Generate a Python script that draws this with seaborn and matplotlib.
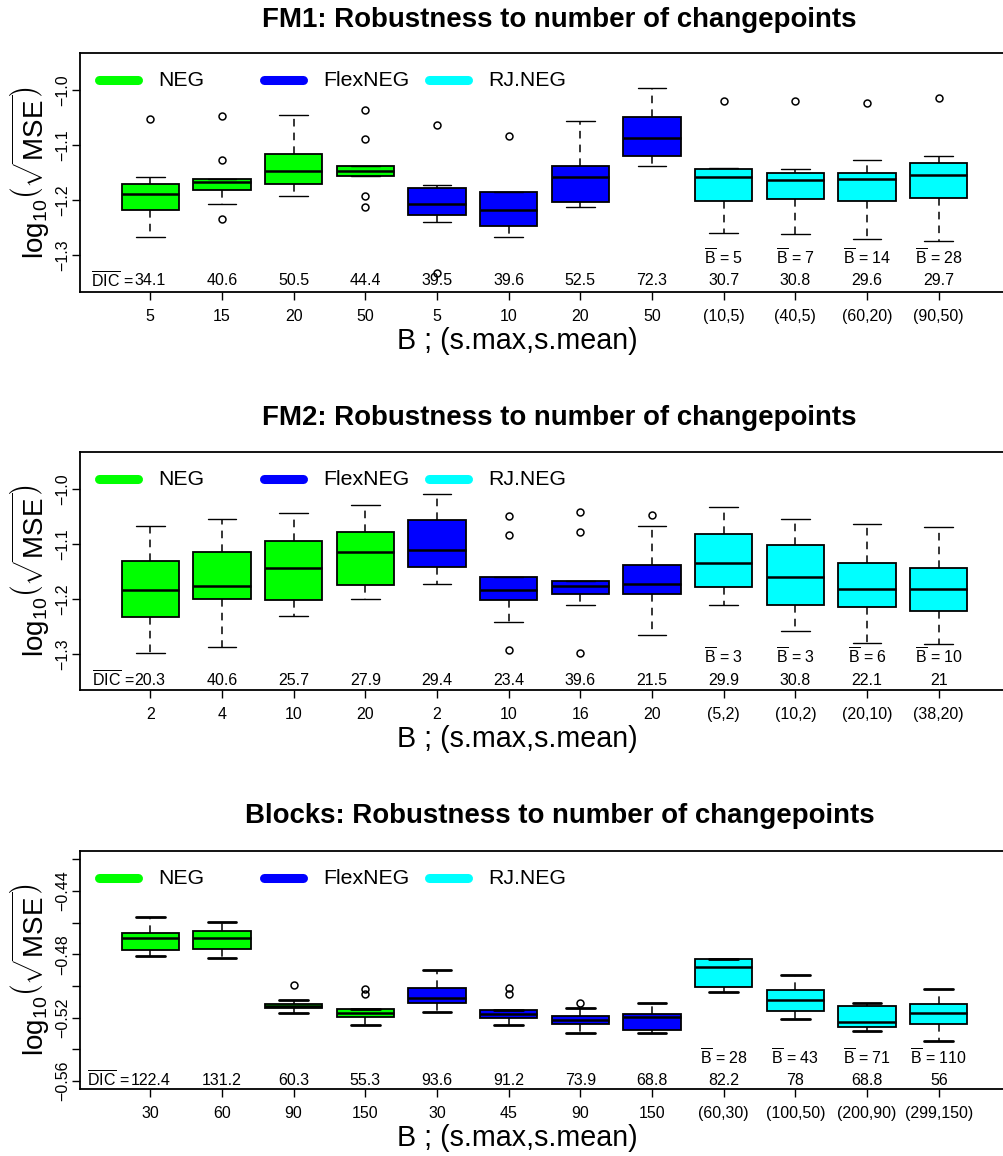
import matplotlib
matplotlib.use("Agg")
import matplotlib.pyplot as plt
import seaborn as sns
from matplotlib.lines import Line2D

# ---------------- data ----------------
methods = ["NEG", "FlexNEG", "RJ.NEG"]
method_colors = ["#00FF00", "#0000FF", "#00FFFF"]
box_method = [0, 0, 0, 0, 1, 1, 1, 1, 2, 2, 2, 2]

titles = ["FM1: Robustness to number of changepoints",
          "FM2: Robustness to number of changepoints",
          "Blocks: Robustness to number of changepoints"]

fm1_labels = ["5", "15", "20", "50", "5", "10", "20", "50", "(10,5)", "(40,5)", "(60,20)", "(90,50)"]
fm1_whislo = [-1.268, -1.207, -1.193, -1.156, -1.239, -1.268, -1.212, -1.138, -1.259, -1.261, -1.270, -1.275]
fm1_q1 = [-1.218, -1.182, -1.170, -1.156, -1.228, -1.248, -1.204, -1.120, -1.202, -1.198, -1.201, -1.197]
fm1_med = [-1.189, -1.167, -1.147, -1.148, -1.208, -1.219, -1.159, -1.088, -1.159, -1.164, -1.162, -1.154]
fm1_q3 = [-1.170, -1.161, -1.117, -1.139, -1.179, -1.185, -1.138, -1.050, -1.144, -1.150, -1.151, -1.132]
fm1_whishi = [-1.158, -1.161, -1.046, -1.139, -1.173, -1.185, -1.056, -0.997, -1.142, -1.144, -1.127, -1.120]
fm1_fliers = [[-1.053], [-1.048, -1.127, -1.235], [], [-1.037, -1.089, -1.192, -1.212],
              [-1.064, -1.332], [-1.084], [], [], [-1.021], [-1.021], [-1.023], [-1.015]]
fm1_dic = ["34.1", "40.6", "50.5", "44.4", "39.5", "39.6", "52.5", "72.3", "30.7", "30.8", "29.6", "29.7"]
fm1_bbar = ["5", "7", "14", "28"]

fm2_labels = ["2", "4", "10", "20", "2", "10", "16", "20", "(5,2)", "(10,2)", "(20,10)", "(38,20)"]
fm2_whislo = [-1.297, -1.287, -1.231, -1.200, -1.172, -1.242, -1.211, -1.266, -1.210, -1.258, -1.279, -1.281]
fm2_q1 = [-1.233, -1.200, -1.202, -1.174, -1.141, -1.202, -1.191, -1.191, -1.178, -1.210, -1.214, -1.222]
fm2_med = [-1.183, -1.176, -1.143, -1.115, -1.111, -1.184, -1.176, -1.173, -1.134, -1.159, -1.182, -1.182]
fm2_q3 = [-1.130, -1.114, -1.095, -1.078, -1.056, -1.159, -1.168, -1.139, -1.082, -1.101, -1.134, -1.144]
fm2_whishi = [-1.067, -1.054, -1.043, -1.030, -1.010, -1.159, -1.168, -1.067, -1.032, -1.054, -1.064, -1.070]
fm2_fliers = [[], [], [], [], [], [-1.050, -1.084, -1.293], [-1.041, -1.079, -1.298], [-1.047],
              [], [], [], []]
fm2_dic = ["20.3", "40.6", "25.7", "27.9", "29.4", "23.4", "39.6", "21.5", "29.9", "30.8", "22.1", "21"]
fm2_bbar = ["3", "3", "6", "10"]

blk_labels = ["30", "60", "90", "150", "30", "45", "90", "150", "(60,30)", "(100,50)", "(200,90)", "(299,150)"]
blk_whislo = [-0.4813, -0.4821, -0.5173, -0.5247, -0.5162, -0.5249, -0.5299, -0.5299, -0.5038, -0.5211, -0.5283, -0.5349]
blk_q1 = [-0.4771, -0.4764, -0.5139, -0.5198, -0.5108, -0.5200, -0.5242, -0.5282, -0.5005, -0.5158, -0.5259, -0.5242]
blk_med = [-0.4697, -0.4695, -0.5124, -0.5171, -0.5074, -0.5175, -0.5215, -0.5198, -0.4882, -0.5089, -0.5228, -0.5173]
blk_q3 = [-0.4665, -0.4651, -0.5112, -0.5148, -0.5015, -0.5154, -0.5190, -0.5177, -0.4830, -0.5025, -0.5124, -0.5112]
blk_whishi = [-0.4564, -0.4596, -0.5091, -0.5148, -0.4901, -0.5152, -0.5137, -0.5110, -0.4830, -0.4931, -0.5110, -0.5021]
blk_fliers = [[], [], [-0.4994], [-0.5017, -0.5049], [], [-0.5011, -0.5053], [-0.5110], [],
              [], [], [], []]
blk_dic = ["122.4", "131.2", "60.3", "55.3", "93.6", "91.2", "73.9", "68.8", "82.2", "78", "68.8", "56"]
blk_bbar = ["28", "43", "71", "110"]

# ---------------- style ----------------
sns.set_theme(style="white", rc={
    "axes.edgecolor": "black", "axes.linewidth": 1.0,
    "text.color": "black", "xtick.color": "black", "ytick.color": "black",
    "axes.labelcolor": "black",
})
plt.rcParams["font.family"] = ["Liberation Sans", "DejaVu Sans"]
plt.rcParams["mathtext.fontset"] = "custom"
plt.rcParams["mathtext.rm"] = "Liberation Sans"
plt.rcParams["mathtext.it"] = "Liberation Sans:italic"
plt.rcParams["mathtext.bf"] = "Liberation Sans:bold"

W, H = 1004, 1156
fig = plt.figure(figsize=(W / 100, H / 100), dpi=100)

panels = [
    dict(labels=fm1_labels, lo=fm1_whislo, q1=fm1_q1, med=fm1_med, q3=fm1_q3, hi=fm1_whishi,
         fl=fm1_fliers, dic=fm1_dic, bbar=fm1_bbar, ylim=(-1.367, -0.933),
         yticks=[-1.3, -1.2, -1.1, -1.0], ylabs=["−1.3", "−1.2", "−1.1", "−1.0"],
         bbar_y=-1.305, dic_y=-1.346, top=53, bot=292),
    dict(labels=fm2_labels, lo=fm2_whislo, q1=fm2_q1, med=fm2_med, q3=fm2_q3, hi=fm2_whishi,
         fl=fm2_fliers, dic=fm2_dic, bbar=fm2_bbar, ylim=(-1.365, -0.933),
         yticks=[-1.3, -1.2, -1.1, -1.0], ylabs=["−1.3", "−1.2", "−1.1", "−1.0"],
         bbar_y=-1.305, dic_y=-1.347, top=452, bot=690),
    dict(labels=blk_labels, lo=blk_whislo, q1=blk_q1, med=blk_med, q3=blk_q3, hi=blk_whishi,
         fl=blk_fliers, dic=blk_dic, bbar=blk_bbar, ylim=(-0.5652, -0.4147),
         yticks=[-0.56, -0.54, -0.52, -0.50, -0.48, -0.46, -0.44, -0.42],
         ylabs=["−0.56", "", "−0.52", "", "−0.48", "", "−0.44", ""],
         bbar_y=-0.5457, dic_y=-0.5597, top=851, bot=1089),
]

left_px, right_px = 80, 1009
positions = list(range(1, 13))
title_y = [20, 418, 816]

for k, p in enumerate(panels):
    ax = fig.add_axes([left_px / W, 1 - p["bot"] / H, (right_px - left_px) / W, (p["bot"] - p["top"]) / H])
    stats = []
    for i in range(12):
        stats.append(dict(whislo=p["lo"][i], q1=p["q1"][i], med=p["med"][i], q3=p["q3"][i],
                          whishi=p["hi"][i], fliers=p["fl"][i]))
    cap_lw = 2.0 if k == 2 else 1.0
    bp = ax.bxp(stats, positions=positions, widths=0.8, capwidths=0.4, patch_artist=True,
                showfliers=True,
                boxprops=dict(edgecolor="black", linewidth=1.3),
                medianprops=dict(color="black", linewidth=1.8),
                whiskerprops=dict(color="black", linewidth=1.1, linestyle=(0, (5, 4))),
                capprops=dict(color="black", linewidth=cap_lw),
                flierprops=dict(marker="o", markerfacecolor="none", markeredgecolor="black",
                                markersize=5, markeredgewidth=1.1))
    for patch, m in zip(bp["boxes"], box_method):
        patch.set_facecolor(method_colors[m])

    ax.set_xlim(0.02, 12.98)
    ax.set_ylim(*p["ylim"])
    ax.set_xticks(positions)
    ax.set_xticklabels(p["labels"], fontsize=11.5)
    ax.set_yticks(p["yticks"])
    ax.set_yticklabels(p["ylabs"], fontsize=11.5, rotation=90, va="center")
    ax.tick_params(axis="both", direction="out", length=6, width=1.0, bottom=True, left=True)
    ax.tick_params(axis="x", pad=6)
    ax.tick_params(axis="y", pad=1)
    for s in ax.spines.values():
        s.set_linewidth(1.3)
        s.set_color("black")

    # DIC row and B-bar row
    dic_texts = []
    for i in range(12):
        dic_texts.append(ax.text(positions[i], p["dic_y"], p["dic"][i], ha="center", va="center",
                                 fontsize=11.5))
    ax.annotate(r"$\overline{\mathrm{DIC}}$ =", xy=(0, 0.5), xycoords=dic_texts[0],
                xytext=(-0.5, 0), textcoords="offset points", ha="right", va="center",
                fontsize=11.5)
    for j in range(4):
        ax.text(positions[8 + j], p["bbar_y"], r"$\overline{\mathrm{B}}$ = " + p["bbar"][j],
                ha="center", va="center", fontsize=11.5)

    # legend (horizontal, thick line swatches)
    leg_x = [(95, 143, 158), (260, 308, 323), (425, 473, 488)]
    span = right_px - left_px
    for (x0, x1, xt), name, col in zip(leg_x, methods, method_colors):
        ax.add_line(Line2D([(x0 + 4.5 - left_px) / span, (x1 - 4.5 - left_px) / span], [0.885, 0.885],
                           transform=ax.transAxes, color=col, lw=6.5, solid_capstyle="round",
                           clip_on=False))
        ax.text((xt - left_px) / span, 0.885, name, transform=ax.transAxes, ha="left",
                va="center", fontsize=15.3)

    # titles and axis labels
    fig.text(559.5 / W, 1 - title_y[k] / H, titles[k], ha="center", va="center",
             fontsize=19.9, fontweight="bold")
    fig.text(517.5 / W, 1 - (p["bot"] + 57) / H, "B ; (s.max,s.mean)", ha="center", va="baseline",
             fontsize=20.6)
    fig.text(30 / W, 1 - (p["top"] + p["bot"]) / 2 / H, r"$\log_{10}\!\left(\sqrt{\mathrm{MSE}}\right)$",
             ha="center", va="center", rotation=90, fontsize=20)

fig.savefig("out.png", dpi=100)
